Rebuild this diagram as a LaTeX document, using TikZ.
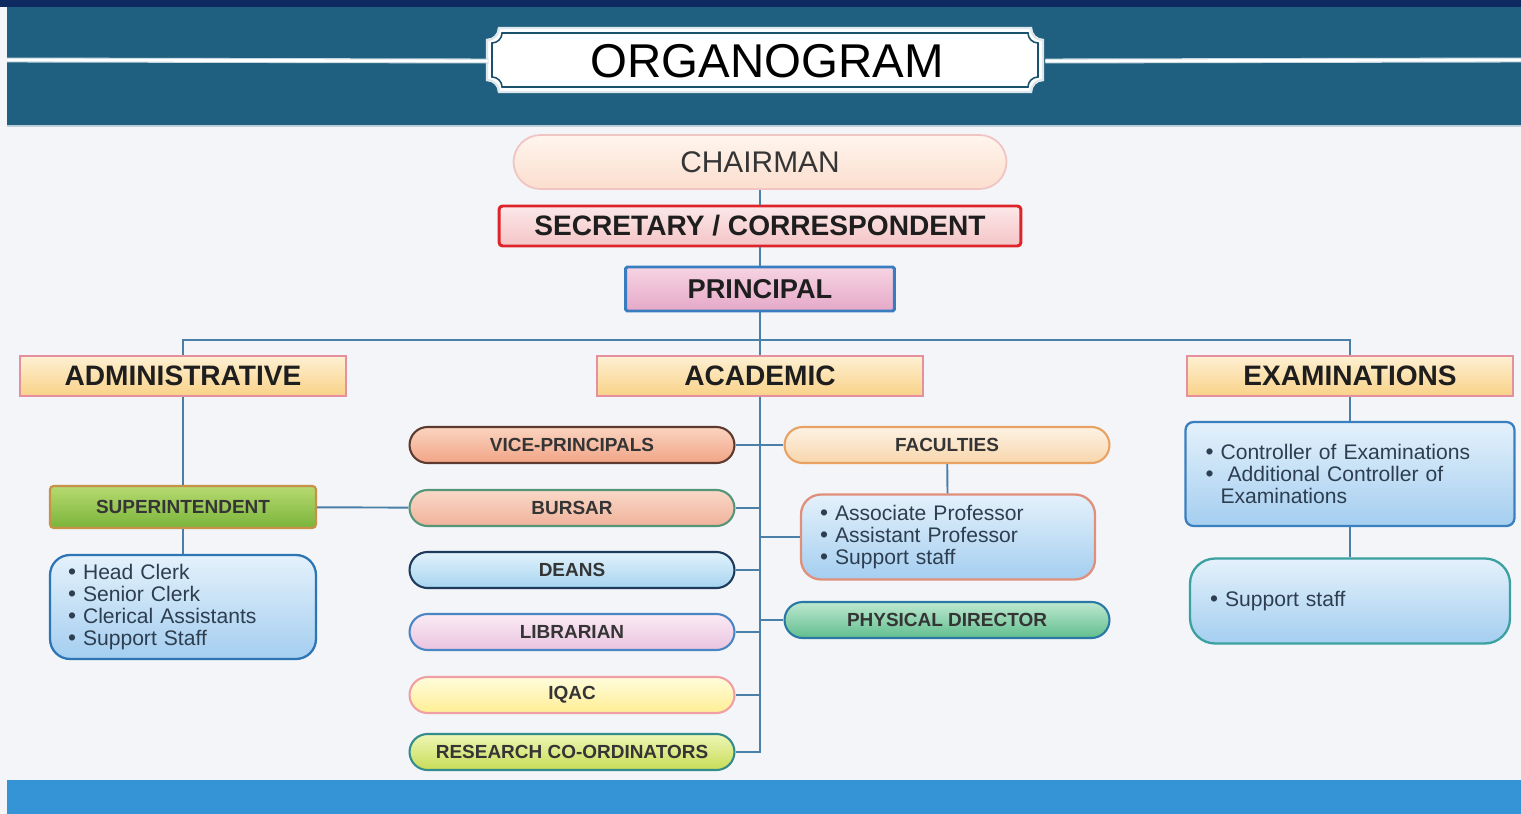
\documentclass[tikz,border=0pt]{standalone}
\usepackage{fontspec}
\setmainfont{Liberation Sans}
\usetikzlibrary{positioning,shadings}

\definecolor{navy}{HTML}{0E2A60}
\definecolor{band}{HTML}{1F6080}
\definecolor{paper}{HTML}{F3F5F8}
\definecolor{footer}{HTML}{3494D6}
\definecolor{linkblue}{HTML}{4A7FA8}
\definecolor{ink}{HTML}{1E1E1E}
\definecolor{listink}{HTML}{2D3E50}
\definecolor{headline}{HTML}{E590A0}
\definecolor{headtop}{HTML}{FEF0D2}
\definecolor{headbot}{HTML}{F9D288}
\definecolor{listtop}{HTML}{E4F1FB}
\definecolor{listbot}{HTML}{A4CEF0}
\definecolor{chairline}{HTML}{F0C4C2}
\definecolor{chairtop}{HTML}{FFF5EE}
\definecolor{chairbot}{HTML}{FBDECE}
\definecolor{secline}{HTML}{DE242B}
\definecolor{sectop}{HTML}{FCE8E8}
\definecolor{secbot}{HTML}{F4C4C6}
\definecolor{princline}{HTML}{3A7CC0}
\definecolor{princtop}{HTML}{F6D4E2}
\definecolor{princbot}{HTML}{E5A8C8}
\definecolor{supline}{HTML}{C89148}
\definecolor{suptop}{HTML}{B6DA70}
\definecolor{supbot}{HTML}{7AB43A}
\definecolor{vptop}{HTML}{FBD4C0}
\definecolor{vpbot}{HTML}{F1A486}
\definecolor{vpline}{HTML}{5C3A30}
\definecolor{burtop}{HTML}{FAD8C8}
\definecolor{burbot}{HTML}{F0B29A}
\definecolor{burline}{HTML}{569678}
\definecolor{deantop}{HTML}{E2F2FB}
\definecolor{deanbot}{HTML}{A6D4F0}
\definecolor{deanline}{HTML}{1E3A5C}
\definecolor{libtop}{HTML}{FAEAF4}
\definecolor{libbot}{HTML}{EAC4E0}
\definecolor{libline}{HTML}{4A86C4}
\definecolor{iqtop}{HTML}{FFFCDC}
\definecolor{iqbot}{HTML}{FFEE94}
\definecolor{iqline}{HTML}{F0A0A4}
\definecolor{restop}{HTML}{EEF6B6}
\definecolor{resbot}{HTML}{C8DC56}
\definecolor{resline}{HTML}{348C8C}
\definecolor{factop}{HTML}{FDF2E4}
\definecolor{facbot}{HTML}{F8D6AC}
\definecolor{facline}{HTML}{E8A264}
\definecolor{phytop}{HTML}{BEE8D0}
\definecolor{phybot}{HTML}{60BE8E}
\definecolor{phyline}{HTML}{2A78A4}
\definecolor{adminline}{HTML}{2E75B6}
\definecolor{facbox}{HTML}{E0907A}
\definecolor{examline}{HTML}{3A80C0}
\definecolor{staffline}{HTML}{3AA0A0}

% notched frame: x1 y1 x2 y2 r
\newcommand{\notchpath}[5]{(#1+#5,#2) -- (#3-#5,#2)
  .. controls (#3-#5,#2+0.55*#5) and (#3-0.55*#5,#2+#5) .. (#3,#2+#5) -- (#3,#4-#5)
  .. controls (#3-0.55*#5,#4-#5) and (#3-#5,#4-0.55*#5) .. (#3-#5,#4) -- (#1+#5,#4)
  .. controls (#1+#5,#4-0.55*#5) and (#1+0.55*#5,#4-#5) .. (#1,#4-#5) -- (#1,#2+#5)
  .. controls (#1+0.55*#5,#2+#5) and (#1+#5,#2+0.55*#5) .. (#1+#5,#2) -- cycle}
\newcommand{\bul}{{\fontsize{13}{12}\selectfont\textbullet}\ }

\begin{document}
\begin{tikzpicture}[x=0.02cm, y=-0.02cm]
	\tikzset{link/.style = {draw=linkblue, line width=1.1pt}}
	\tikzset{rule/.style = {draw=white!75!band, double=white, double distance=1.6pt, line width=0.6pt}}
	\tikzset{headbox/.style = {draw=headline, line width=1.2pt, top color=headtop, bottom color=headbot,
		minimum width=6.52cm, minimum height=0.8cm, text=ink, font=\fontsize{16}{18}\selectfont\bfseries}}
	\tikzset{pill/.style n args = {3}{draw=#3, line width=1.2pt, top color=#1, bottom color=#2, rounded corners=0.36cm,
		minimum width=6.5cm, minimum height=0.72cm, text=ink!90, font=\fontsize{10.8}{12}\selectfont\bfseries}}
	\tikzset{listbox/.style 2 args = {draw=#1, line width=1.3pt, top color=listtop, bottom color=listbot,
		rounded corners=#2, align=left, text=listink, font=\fontsize{12}{12.5}\selectfont}}

	\useasboundingbox (0,0) rectangle (1521,814);
	\fill[paper] (0,0) rectangle (1521,814);
	\fill[band] (7,7) rectangle (1521,127);
	\draw[white!70!band, line width=0.8pt] (7,126) -- (1521,126);
	\fill[navy] (0,0) rectangle (1521,7);
	\fill[footer] (7,780) rectangle (1521,814);

	% title
	\filldraw[fill=white, draw=white!85!band, line width=1.4pt] \notchpath{487}{28}{1043}{92}{12};
	\draw[band!85!black, line width=0.9pt] \notchpath{492}{33}{1038}{87}{10};
	\node[minimum width=11.12cm, minimum height=1.28cm, font=\fontsize{27}{30}\selectfont] (title) at (767,61) {ORGANOGRAM};
	\coordinate (ruleL) at (7,60);
	\coordinate (ruleR) at (1521,60);
	\draw[rule] (ruleL) to (title.west);
	\draw[rule] (title.east) to (ruleR);

	% top of the tree
	\node[draw=chairline, line width=1pt, top color=chairtop, bottom color=chairbot, rounded corners=0.54cm,
		minimum width=9.86cm, minimum height=1.08cm, text=ink!90, font=\fontsize{17}{19}\selectfont] (chair) at (760,162) {CHAIRMAN};
	\node[draw=secline, line width=1.7pt, top color=sectop, bottom color=secbot, rounded corners=2pt,
		minimum width=10.44cm, minimum height=0.8cm, text=ink, font=\fontsize{16}{18}\selectfont\bfseries] (sec) at (760,226) {SECRETARY / CORRESPONDENT};
	\node[draw=princline, line width=1.7pt, top color=princtop, bottom color=princbot, rounded corners=1pt,
		minimum width=5.38cm, minimum height=0.88cm, text=ink, font=\fontsize{15.5}{18}\selectfont\bfseries] (princ) at (760,289) {PRINCIPAL};

	\node[headbox] (admin) at (183,376) {ADMINISTRATIVE};
	\node[headbox] (acad) at (760,376) {ACADEMIC};
	\node[headbox] (exam) at (1350,376) {EXAMINATIONS};

	\coordinate (bus) at (760,340);
	\draw[link] (chair) to (sec);
	\draw[link] (sec) to (princ);
	\draw[link] (princ) to (acad);
	\draw[link] (admin.north) |- (bus) -| (exam.north);

	% administrative
	\node[draw=supline, line width=1.2pt, top color=suptop, bottom color=supbot,
		rounded corners=2pt, minimum width=5.32cm, minimum height=0.84cm, text=ink!90,
		font=\fontsize{10.8}{12}\selectfont\bfseries] (super) at (183,507) {SUPERINTENDENT};
	\node[listbox={adminline}{0.4cm}, minimum width=5.32cm, minimum height=2.08cm, inner xsep=0.36cm,
		text width=4.6cm] (adminlist) at (183,607)
		{\bul Head Clerk\\ \bul Senior Clerk\\ \bul Clerical Assistants\\ \bul Support Staff};
	\draw[link] (admin) to (super);
	\draw[link] (super) to (adminlist);

	% academic, left column
	\node[pill={vptop}{vpbot}{vpline}] (vp) at (572,445) {VICE-PRINCIPALS};
	\node[pill={burtop}{burbot}{burline}] (bursar) at (572,508) {BURSAR};
	\node[pill={deantop}{deanbot}{deanline}] (deans) at (572,570) {DEANS};
	\node[pill={libtop}{libbot}{libline}] (libr) at (572,632) {LIBRARIAN};
	\node[pill={iqtop}{iqbot}{iqline}] (iqac) at (572,695) {IQAC};
	\node[pill={restop}{resbot}{resline}] (rsc) at (572,752) {RESEARCH CO-ORDINATORS};
	\draw[link] (super) to (bursar);

	% academic, right column
	\node[pill={factop}{facbot}{facline}] (fac) at (947,445) {FACULTIES};
	\node[listbox={facbox}{0.4cm}, minimum width=5.88cm, minimum height=1.7cm, inner xsep=0.38cm,
		text width=5.12cm] (faclist) at (948,537)
		{\bul Associate Professor\\ \bul Assistant Professor\\ \bul Support staff};
	\node[pill={phytop}{phybot}{phyline}] (phys) at (947,620) {PHYSICAL DIRECTOR};
	\draw[link] (fac) to (faclist);

	% academic spine
	\draw[link] (acad.south) |- (rsc.east);
	\foreach \n in {vp,bursar,deans,libr,iqac}
		\draw[link] (\n.east) to (\n.east -| acad.south);
	\foreach \n in {fac,faclist,phys}
		\draw[link] (\n.west) to (\n.west -| acad.south);

	% examinations
	\node[listbox={examline}{0.16cm}, minimum width=6.58cm, minimum height=2.08cm, inner xsep=0.4cm,
		text width=5.78cm] (exam1) at (1350,474)
		{\bul Controller of Examinations\\ \bul\ Additional Controller of\\ \hspace*{0.3cm}Examinations};
	\node[listbox={staffline}{0.5cm}, minimum width=6.4cm, minimum height=1.7cm, inner xsep=0.4cm,
		text width=5.6cm] (exam2) at (1350,601) {\bul Support staff};
	\draw[link] (exam) to (exam1);
	\draw[link] (exam1) to (exam2);
\end{tikzpicture}
\end{document}
